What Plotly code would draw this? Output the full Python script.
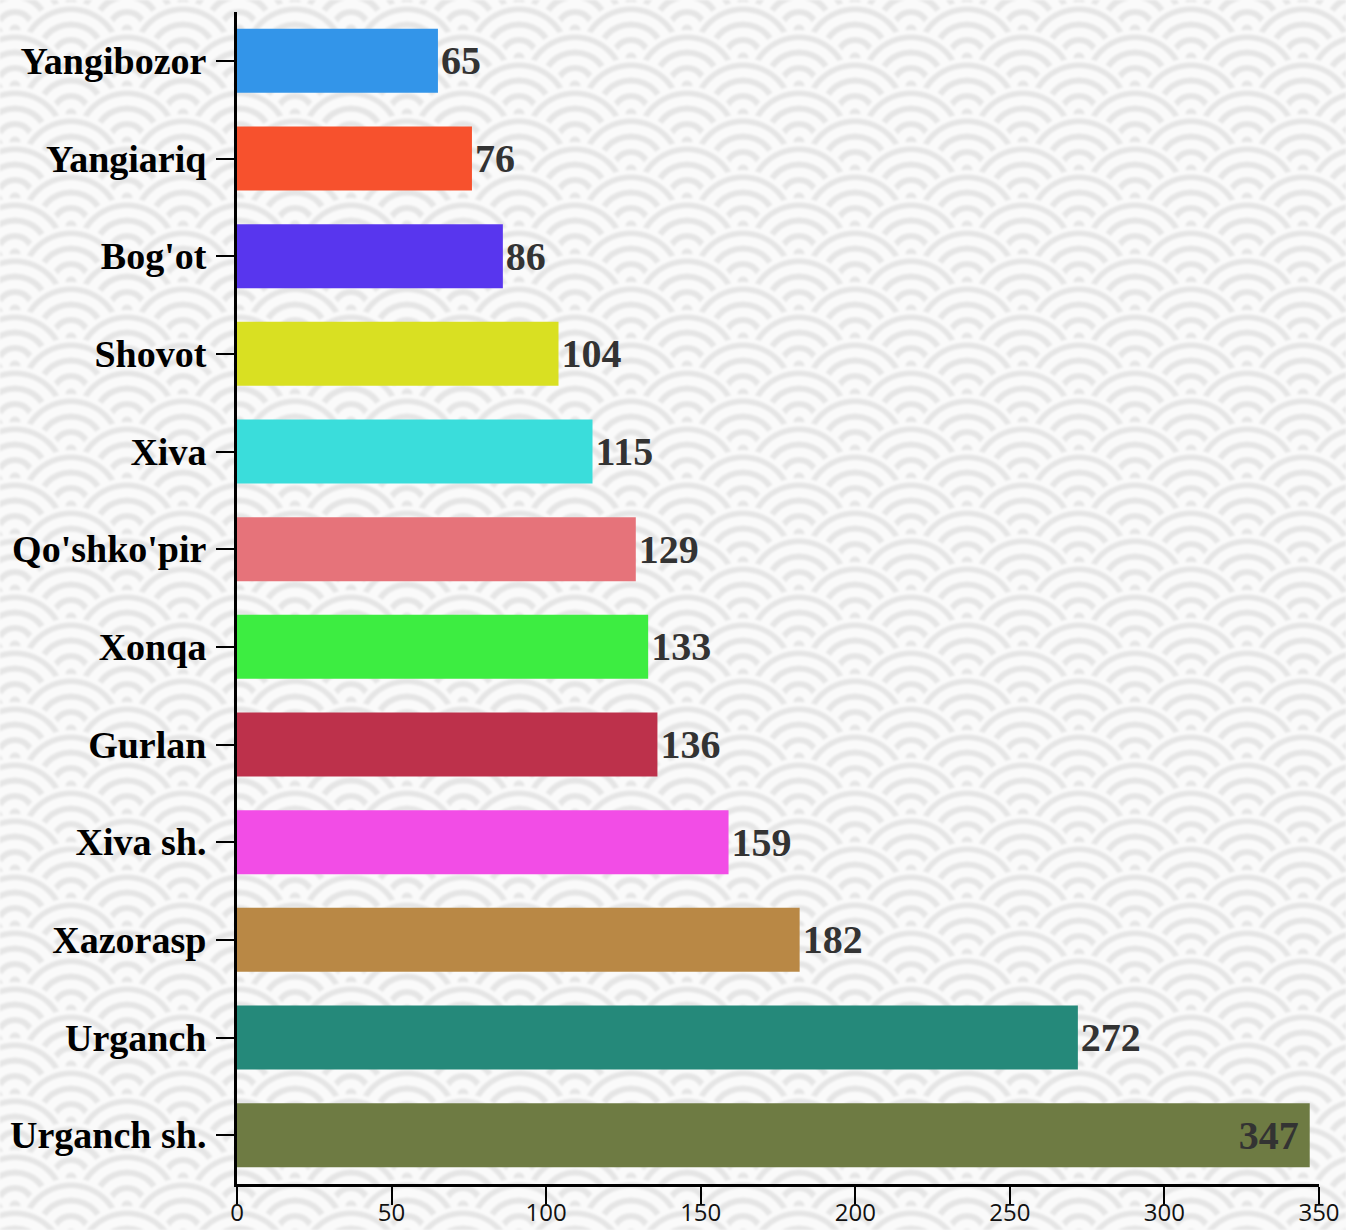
import base64
import plotly.graph_objects as go

# District figures, listed top to bottom
districts = ["Yangibozor", "Yangiariq", "Bog'ot", "Shovot", "Xiva", "Qo'shko'pir",
             "Xonqa", "Gurlan", "Xiva sh.", "Xazorasp", "Urganch", "Urganch sh."]
values = [65, 76, 86, 104, 115, 129, 133, 136, 159, 182, 272, 347]
bar_colors = ["#3395e9", "#f7512d", "#5836ee", "#d9e022", "#3adddb", "#e6737a",
              "#3ded41", "#bd314b", "#f24de6", "#b98845", "#25897a", "#6e7b43"]
x_ticks = [0, 50, 100, 150, 200, 250, 300, 350]

W, H = 1346, 1230
ML, MR, MT, MB = 237, 27, 12, 46
PW, PH = W - ML - MR, H - MT - MB

# --- seigaiha (wave scale) backdrop as an SVG pattern ---
LIGHT, DARK = "#fafafa", "#e5e5e5"
bands = [(56, LIGHT), (51.5, DARK), (46, LIGHT), (36.5, DARK),
         (30.5, LIGHT), (21, DARK), (15, LIGHT), (5.5, DARK)]


def scale(cx, cy):
    return "".join(f'<circle cx="{cx}" cy="{cy}" r="{r}" fill="{c}"/>' for r, c in bands)


tile = ""
for cy, xs in [(-28, [-56, 56, 168]), (0, [0, 112]), (28, [-56, 56, 168]),
               (56, [0, 112]), (84, [-56, 56, 168])]:
    for cx in xs:
        tile += scale(cx, cy)

svg = (
    f'<svg xmlns="http://www.w3.org/2000/svg" width="{W}" height="{H}" '
    f'viewBox="0 0 {W} {H}" preserveAspectRatio="none">'
    '<defs>'
    '<pattern id="p" patternUnits="userSpaceOnUse" x="71" y="2" width="112" height="56">'
    f'{tile}</pattern>'
    '<filter id="b" x="0" y="0" width="1" height="1"><feGaussianBlur stdDeviation="1.1"/></filter>'
    '</defs>'
    f'<rect width="{W}" height="{H}" fill="{LIGHT}"/>'
    f'<rect width="{W}" height="{H}" fill="url(#p)" filter="url(#b)"/>'
    '</svg>'
)
bg_src = "data:image/svg+xml;base64," + base64.b64encode(svg.encode()).decode()

# the longest bar carries its label inside, near the bar end
positions = ["inside" if v == max(values) else "outside" for v in values]
labels = [f"{v}\u2009" if v == max(values) else str(v) for v in values]

fig = go.Figure(
    go.Bar(
        x=values,
        y=districts,
        orientation="h",
        marker=dict(color=bar_colors, line=dict(width=0)),
        width=0.655,
        text=labels,
        textposition=positions,
        insidetextanchor="end",
        constraintext="none",
        textfont=dict(family="Liberation Serif", size=40, color="#333333", weight="bold"),
        cliponaxis=False,
        hoverinfo="skip",
    )
)

fig.update_layout(
    width=W,
    height=H,
    margin=dict(l=ML, r=MR, t=MT, b=MB, pad=0),
    paper_bgcolor="rgba(0,0,0,0)",
    plot_bgcolor="rgba(0,0,0,0)",
    showlegend=False,
    images=[dict(
        source=bg_src,
        xref="paper", yref="paper",
        x=-ML / PW, y=1 + MT / PH,
        sizex=W / PW, sizey=H / PH,
        xanchor="left", yanchor="top",
        sizing="stretch", layer="below",
    )],
    xaxis=dict(
        range=[0, 350],
        tickvals=x_ticks,
        ticks="outside", ticklen=18, tickwidth=2, tickcolor="#000",
        showline=True, linewidth=3, linecolor="#000",
        showgrid=False, zeroline=False,
        automargin=False,
        ticklabelstandoff=-13,
        tickfont=dict(family="Open Sans", size=24, color="#111"),
    ),
    yaxis=dict(
        range=[len(districts) - 0.5, -0.5],
        ticks="outside", ticklen=18, tickwidth=2, tickcolor="#000",
        showline=True, linewidth=3, linecolor="#000",
        showgrid=False, zeroline=False,
        automargin=False,
        ticklabelstandoff=2,
        tickfont=dict(family="Liberation Serif", size=38, color="#000", weight="bold"),
    ),
)

fig.write_html("out.html")
